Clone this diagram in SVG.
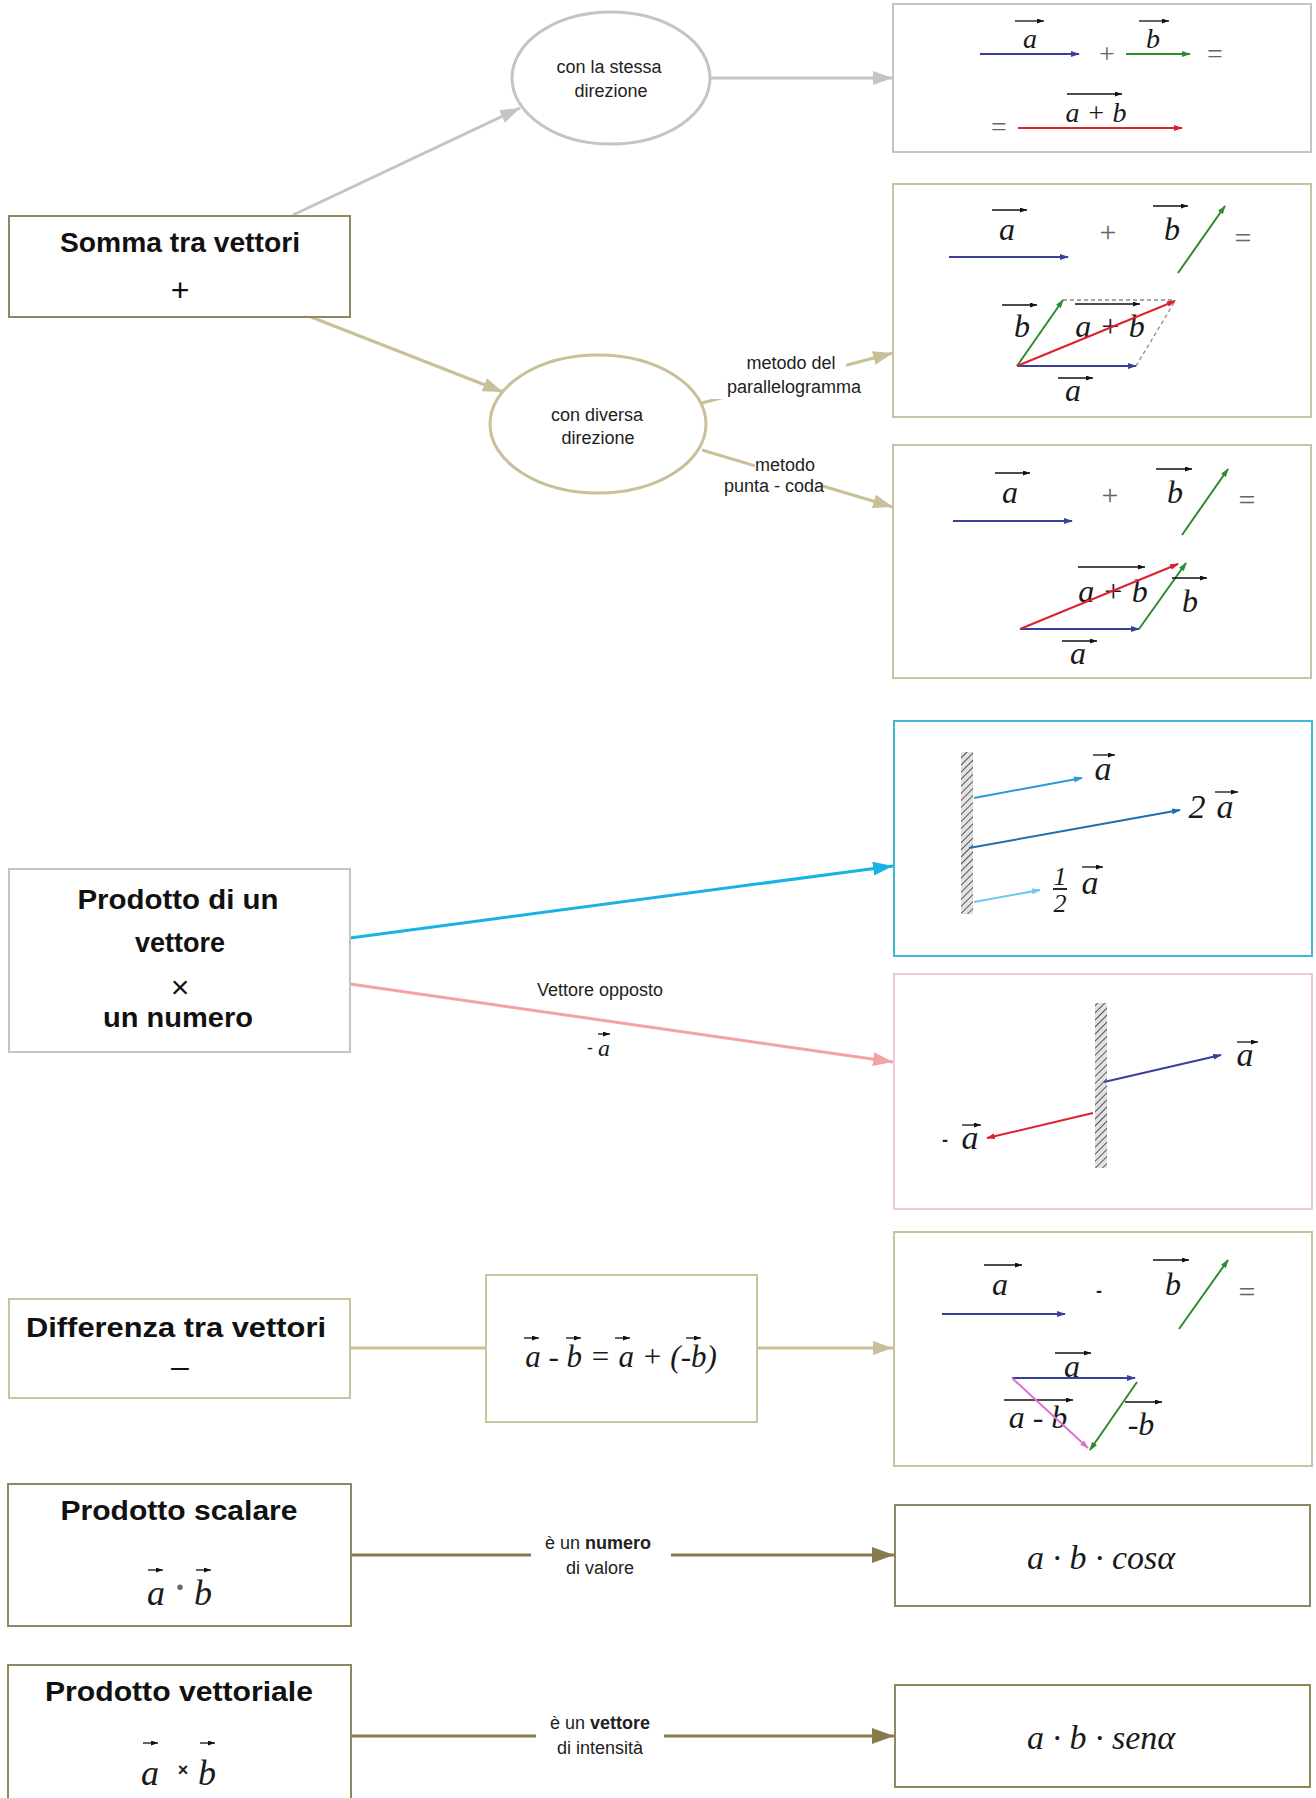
<svg xmlns="http://www.w3.org/2000/svg" width="1316" height="1798" viewBox="0 0 1316 1798">
<defs>
<style>
.bx{fill:#fff;stroke-width:2}
.hd{font-family:"Liberation Sans",Arial,sans-serif;font-weight:bold;font-size:27px;text-anchor:middle;fill:#111}
.sym{font-family:"Liberation Sans",Arial,sans-serif;font-size:32px;text-anchor:middle;fill:#111}
.lb{font-family:"Liberation Sans",Arial,sans-serif;font-size:18px;text-anchor:middle;fill:#222}
.m{font-family:"Liberation Serif","Times New Roman",serif;font-style:italic;text-anchor:middle;fill:#1a1a1a}
.op{font-family:"Liberation Serif","Times New Roman",serif;text-anchor:middle;fill:#666}
.ov{stroke:#111;stroke-width:1.3;marker-end:url(#vBlk)}
.conn{fill:none;stroke-width:3}
.v{stroke-width:2;fill:none}
</style>
<marker id="aGray" markerWidth="20" markerHeight="14" refX="20" refY="7" orient="auto" markerUnits="userSpaceOnUse"><path d="M0,0L20,7L0,14z" fill="#c4c4c4"/></marker>
<marker id="aTan" markerWidth="20" markerHeight="14" refX="20" refY="7" orient="auto" markerUnits="userSpaceOnUse"><path d="M0,0L20,7L0,14z" fill="#c9bf98"/></marker>
<marker id="aCyan" markerWidth="20" markerHeight="14" refX="20" refY="7" orient="auto" markerUnits="userSpaceOnUse"><path d="M0,0L20,7L0,14z" fill="#18b2e4"/></marker>
<marker id="aPink" markerWidth="20" markerHeight="14" refX="20" refY="7" orient="auto" markerUnits="userSpaceOnUse"><path d="M0,0L20,7L0,14z" fill="#f3a3a6"/></marker>
<marker id="aOlive" markerWidth="22" markerHeight="16" refX="22" refY="8" orient="auto" markerUnits="userSpaceOnUse"><path d="M0,0L22,8L0,16z" fill="#877b4c"/></marker>
<marker id="vBlue" markerWidth="9" markerHeight="6" refX="8" refY="3" orient="auto" markerUnits="userSpaceOnUse"><path d="M0,0L9,3L0,6z" fill="#3b3f9c"/></marker>
<marker id="vGreen" markerWidth="9" markerHeight="6" refX="8" refY="3" orient="auto" markerUnits="userSpaceOnUse"><path d="M0,0L9,3L0,6z" fill="#2e8b2e"/></marker>
<marker id="vRed" markerWidth="9" markerHeight="6" refX="8" refY="3" orient="auto" markerUnits="userSpaceOnUse"><path d="M0,0L9,3L0,6z" fill="#e0202c"/></marker>
<marker id="vMag" markerWidth="9" markerHeight="6" refX="8" refY="3" orient="auto" markerUnits="userSpaceOnUse"><path d="M0,0L9,3L0,6z" fill="#e070d0"/></marker>
<marker id="vC1" markerWidth="9" markerHeight="6" refX="8" refY="3" orient="auto" markerUnits="userSpaceOnUse"><path d="M0,0L9,3L0,6z" fill="#2a9ad8"/></marker>
<marker id="vC2" markerWidth="9" markerHeight="6" refX="8" refY="3" orient="auto" markerUnits="userSpaceOnUse"><path d="M0,0L9,3L0,6z" fill="#1f6fb0"/></marker>
<marker id="vC3" markerWidth="9" markerHeight="6" refX="8" refY="3" orient="auto" markerUnits="userSpaceOnUse"><path d="M0,0L9,3L0,6z" fill="#70c8f0"/></marker>
<marker id="vBlk" markerWidth="7" markerHeight="5" refX="7" refY="2.5" orient="auto" markerUnits="userSpaceOnUse"><path d="M0,0L7,2.5L0,5z" fill="#111"/></marker>
<pattern id="hatch" width="5" height="5" patternUnits="userSpaceOnUse" patternTransform="rotate(45)"><rect width="5" height="5" fill="#e2e2e2"/><line x1="0" y1="0" x2="0" y2="5" stroke="#333" stroke-width="1.6"/></pattern>
</defs>
<rect width="1316" height="1798" fill="#fff"/>

<g id="connectors">
<line class="conn" x1="293" y1="215" x2="520" y2="108" stroke="#c4c4c4" marker-end="url(#aGray)"/>
<line class="conn" x1="710" y1="78" x2="893" y2="78" stroke="#c4c4c4" marker-end="url(#aGray)"/>
<line class="conn" x1="311" y1="317" x2="503" y2="392" stroke="#c9bf98" marker-end="url(#aTan)"/>
<line class="conn" x1="702" y1="403" x2="893" y2="353" stroke="#c9bf98" marker-end="url(#aTan)"/>
<line class="conn" x1="702" y1="450" x2="893" y2="507" stroke="#c9bf98" marker-end="url(#aTan)"/>
<line class="conn" x1="350" y1="938" x2="893" y2="866" stroke="#18b2e4" marker-end="url(#aCyan)"/>
<line class="conn" x1="350" y1="984" x2="893" y2="1062" stroke="#f3a3a6" marker-end="url(#aPink)"/>
<line class="conn" x1="350" y1="1348" x2="486" y2="1348" stroke="#c9bf98"/>
<line class="conn" x1="757" y1="1348" x2="893" y2="1348" stroke="#c9bf98" marker-end="url(#aTan)"/>
<line class="conn" x1="351" y1="1555" x2="894" y2="1555" stroke="#877b4c" marker-end="url(#aOlive)"/>
<line class="conn" x1="351" y1="1736" x2="894" y2="1736" stroke="#877b4c" marker-end="url(#aOlive)"/>
<g id="conn-labels">
<rect x="738" y="349" width="108" height="27" fill="#fff"/>
<rect x="712" y="374" width="161" height="25" fill="#fff"/>
<text class="lb" x="791" y="369">metodo del</text>
<text class="lb" x="794" y="393">parallelogramma</text>
<rect x="755" y="454" width="60" height="24" fill="#fff"/>
<rect x="724" y="476" width="98" height="22" fill="#fff"/>
<text class="lb" x="785" y="471">metodo</text>
<text class="lb" x="774" y="492">punta - coda</text>
<text class="lb" x="600" y="996">Vettore opposto</text>
<text class="lb" x="590" y="1054" font-size="16">-</text>
<text class="m" x="604" y="1056" font-size="24">a</text>
<line class="ov" x1="598" y1="1034" x2="610" y2="1034"/>
<rect x="531" y="1528" width="140" height="54" fill="#fff"/>
<text class="lb" x="598" y="1549">è un <tspan font-weight="bold">numero</tspan></text>
<text class="lb" x="600" y="1574">di valore</text>
<rect x="536" y="1708" width="128" height="54" fill="#fff"/>
<text class="lb" x="600" y="1729">è un <tspan font-weight="bold">vettore</tspan></text>
<text class="lb" x="600" y="1754">di intensità</text>
</g>
</g>

<g id="somma">
<rect class="bx" x="9" y="216" width="341" height="101" stroke="#8e875f"/>
<text class="hd" x="180" y="252" textLength="240" lengthAdjust="spacingAndGlyphs">Somma tra vettori</text>
<text class="sym" x="180" y="301">+</text>
</g>

<g id="stessa">
<ellipse cx="611" cy="78" rx="99" ry="66" fill="#fff" stroke="#c4c4c4" stroke-width="3"/>
<text class="lb" x="609" y="73" font-size="19">con la stessa</text>
<text class="lb" x="611" y="97" font-size="19">direzione</text>
</g>

<g id="diversa">
<ellipse cx="598" cy="424" rx="108" ry="69" fill="#fff" stroke="#c9bf98" stroke-width="3"/>
<text class="lb" x="597" y="421" font-size="19">con diversa</text>
<text class="lb" x="598" y="444" font-size="19">direzione</text>
</g>

<g id="box-stessa">
<rect class="bx" x="893" y="4" width="418" height="148" stroke="#c4c4c4"/>
<line class="v" x1="980" y1="54" x2="1079" y2="54" stroke="#3b3f9c" marker-end="url(#vBlue)"/>
<text class="m" x="1030" y="48" font-size="28">a</text>
<line class="ov" x1="1015" y1="21" x2="1044" y2="21"/>
<text class="op" x="1107" y="63" font-size="28">+</text>
<line class="v" x1="1126" y1="54" x2="1190" y2="54" stroke="#2e8b2e" marker-end="url(#vGreen)"/>
<text class="m" x="1153" y="48" font-size="28">b</text>
<line class="ov" x1="1139" y1="21" x2="1169" y2="21"/>
<text class="op" x="1215" y="63" font-size="28">=</text>
<text class="op" x="999" y="136" font-size="28">=</text>
<line class="v" x1="1018" y1="128" x2="1182" y2="128" stroke="#e0202c" marker-end="url(#vRed)"/>
<text class="m" x="1096" y="122" font-size="28">a + b</text>
<line class="ov" x1="1067" y1="94" x2="1122" y2="94"/>
</g>

<g id="box-parallelogramma">
<rect class="bx" x="893" y="184" width="418" height="233" stroke="#c9c3a0"/>
<text class="m" x="1007" y="240" font-size="32">a</text>
<line class="ov" x1="992" y1="210" x2="1027" y2="210"/>
<line class="v" x1="949" y1="257" x2="1068" y2="257" stroke="#3b3f9c" marker-end="url(#vBlue)"/>
<text class="op" x="1108" y="242" font-size="30">+</text>
<text class="m" x="1172" y="240" font-size="32">b</text>
<line class="ov" x1="1153" y1="206" x2="1188" y2="206"/>
<line class="v" x1="1178" y1="273" x2="1225" y2="206" stroke="#2e8b2e" marker-end="url(#vGreen)"/>
<text class="op" x="1243" y="248" font-size="30">=</text>
<line x1="1063" y1="300" x2="1175" y2="300" stroke="#7a9488" stroke-width="1.3" stroke-dasharray="4 3"/>
<line x1="1136" y1="366" x2="1175" y2="301" stroke="#7a9488" stroke-width="1.3" stroke-dasharray="4 3"/>
<line class="v" x1="1017" y1="366" x2="1136" y2="366" stroke="#3b3f9c" marker-end="url(#vBlue)"/>
<line class="v" x1="1017" y1="366" x2="1063" y2="300" stroke="#2e8b2e" marker-end="url(#vGreen)"/>
<text class="m" x="1022" y="337" font-size="32">b</text>
<line class="ov" x1="1002" y1="305" x2="1037" y2="305"/>
<text class="m" x="1110" y="337" font-size="32">a + b</text>
<line class="ov" x1="1075" y1="304" x2="1140" y2="304"/>
<line class="v" x1="1017" y1="366" x2="1175" y2="301" stroke="#e0202c" marker-end="url(#vRed)"/>
<text class="m" x="1073" y="401" font-size="32">a</text>
<line class="ov" x1="1058" y1="378" x2="1093" y2="378"/>
</g>

<g id="box-puntacoda">
<rect class="bx" x="893" y="445" width="418" height="233" stroke="#c9c3a0"/>
<text class="m" x="1010" y="503" font-size="32">a</text>
<line class="ov" x1="995" y1="473" x2="1030" y2="473"/>
<line class="v" x1="953" y1="521" x2="1072" y2="521" stroke="#3b3f9c" marker-end="url(#vBlue)"/>
<text class="op" x="1110" y="505" font-size="30">+</text>
<text class="m" x="1175" y="503" font-size="32">b</text>
<line class="ov" x1="1156" y1="469" x2="1192" y2="469"/>
<line class="v" x1="1182" y1="535" x2="1228" y2="469" stroke="#2e8b2e" marker-end="url(#vGreen)"/>
<text class="op" x="1247" y="510" font-size="30">=</text>
<line class="v" x1="1020" y1="629" x2="1139" y2="629" stroke="#3b3f9c" marker-end="url(#vBlue)"/>
<line class="v" x1="1139" y1="629" x2="1186" y2="563" stroke="#2e8b2e" marker-end="url(#vGreen)"/>
<text class="m" x="1113" y="602" font-size="32">a + b</text>
<line class="ov" x1="1078" y1="567" x2="1145" y2="567"/>
<line class="v" x1="1020" y1="629" x2="1178" y2="564" stroke="#e0202c" marker-end="url(#vRed)"/>
<text class="m" x="1190" y="612" font-size="32">b</text>
<line class="ov" x1="1172" y1="578" x2="1207" y2="578"/>
<text class="m" x="1078" y="664" font-size="32">a</text>
<line class="ov" x1="1062" y1="641" x2="1097" y2="641"/>
</g>

<g id="prodotto-numero">
<rect class="bx" x="9" y="869" width="341" height="183" stroke="#c4c4c4"/>
<text class="hd" x="178" y="909" textLength="201" lengthAdjust="spacingAndGlyphs">Prodotto di un</text>
<text class="hd" x="180" y="952" textLength="90" lengthAdjust="spacingAndGlyphs">vettore</text>
<text class="sym" x="180" y="998" font-size="40" font-weight="normal">×</text>
<text class="hd" x="178" y="1027" textLength="150" lengthAdjust="spacingAndGlyphs">un numero</text>
</g>

<g id="box-multipli">
<rect class="bx" x="894" y="721" width="418" height="235" stroke="#40b8d8"/>
<rect x="961" y="752" width="12" height="162" fill="url(#hatch)"/>
<line class="v" x1="974" y1="798" x2="1082" y2="778" stroke="#2a9ad8" marker-end="url(#vC1)"/>
<text class="m" x="1103" y="780" font-size="34">a</text>
<line class="ov" x1="1093" y1="755" x2="1115" y2="755"/>
<line class="v" x1="969" y1="848" x2="1180" y2="810" stroke="#1f6fb0" marker-end="url(#vC2)"/>
<text class="m" x="1197" y="818" font-size="34" font-style="normal">2</text>
<text class="m" x="1225" y="818" font-size="34">a</text>
<line class="ov" x1="1215" y1="792" x2="1238" y2="792"/>
<line class="v" x1="974" y1="902" x2="1040" y2="890" stroke="#70c8f0" marker-end="url(#vC3)"/>
<text class="m" x="1060" y="885" font-size="26">1</text>
<line x1="1053" y1="889" x2="1067" y2="889" stroke="#111" stroke-width="1.8"/>
<text class="m" x="1060" y="912" font-size="26">2</text>
<text class="m" x="1090" y="894" font-size="34">a</text>
<line class="ov" x1="1082" y1="867" x2="1103" y2="867"/>
</g>

<g id="box-opposto">
<rect class="bx" x="894" y="974" width="418" height="235" stroke="#f0c8d0"/>
<rect x="1095" y="1003" width="12" height="165" fill="url(#hatch)"/>
<line class="v" x1="1104" y1="1082" x2="1221" y2="1055" stroke="#3b3f9c" marker-end="url(#vBlue)"/>
<text class="m" x="1245" y="1066" font-size="34">a</text>
<line class="ov" x1="1237" y1="1042" x2="1258" y2="1042"/>
<line class="v" x1="1093" y1="1113" x2="987" y2="1138" stroke="#e0202c" marker-end="url(#vRed)"/>
<text class="lb" x="945" y="1146" font-size="30" font-weight="bold" fill="#111">-</text>
<text class="m" x="970" y="1149" font-size="34">a</text>
<line class="ov" x1="962" y1="1125" x2="981" y2="1125"/>
</g>

<g id="differenza">
<rect class="bx" x="9" y="1299" width="341" height="99" stroke="#c9c3a0"/>
<text class="hd" x="176" y="1337" textLength="300" lengthAdjust="spacingAndGlyphs">Differenza tra vettori</text>
<text class="sym" x="180" y="1377" font-weight="normal">–</text>
</g>

<g id="formula">
<rect class="bx" x="486" y="1275" width="271" height="147" stroke="#c9c3a0"/>
<text class="m" x="621" y="1367" font-size="31">a - b = a + (-b)</text>
<line class="ov" x1="524" y1="1338" x2="539" y2="1338"/>
<line class="ov" x1="566" y1="1338" x2="581" y2="1338"/>
<line class="ov" x1="615" y1="1338" x2="630" y2="1338"/>
<line class="ov" x1="686" y1="1338" x2="701" y2="1338"/>
</g>

<g id="box-differenza">
<rect class="bx" x="894" y="1232" width="418" height="234" stroke="#c9c3a0"/>
<text class="m" x="1000" y="1295" font-size="32">a</text>
<line class="ov" x1="984" y1="1265" x2="1022" y2="1265"/>
<line class="v" x1="942" y1="1314" x2="1065" y2="1314" stroke="#3b3f9c" marker-end="url(#vBlue)"/>
<text class="lb" x="1099" y="1297" font-size="30" font-weight="bold" fill="#333">-</text>
<text class="m" x="1173" y="1295" font-size="32">b</text>
<line class="ov" x1="1153" y1="1260" x2="1189" y2="1260"/>
<line class="v" x1="1179" y1="1329" x2="1228" y2="1260" stroke="#2e8b2e" marker-end="url(#vGreen)"/>
<text class="op" x="1247" y="1302" font-size="30">=</text>
<text class="m" x="1072" y="1377" font-size="32">a</text>
<line class="ov" x1="1055" y1="1353" x2="1091" y2="1353"/>
<line class="v" x1="1012" y1="1378" x2="1135" y2="1378" stroke="#3b3f9c" marker-end="url(#vBlue)"/>
<line class="v" x1="1137" y1="1382" x2="1090" y2="1450" stroke="#2e8b2e" marker-end="url(#vGreen)"/>
<text class="m" x="1038" y="1428" font-size="32">a - b</text>
<line class="ov" x1="1004" y1="1400" x2="1073" y2="1400"/>
<line class="v" x1="1012" y1="1378" x2="1088" y2="1448" stroke="#e070d0" marker-end="url(#vMag)"/>
<text class="m" x="1141" y="1435" font-size="32">-b</text>
<line class="ov" x1="1125" y1="1402" x2="1162" y2="1402"/>
</g>

<g id="scalare">
<rect class="bx" x="8" y="1484" width="343" height="142" stroke="#8e875f"/>
<text class="hd" x="179" y="1520" textLength="237" lengthAdjust="spacingAndGlyphs">Prodotto scalare</text>
<text class="m" x="156" y="1605" font-size="36">a</text>
<text class="op" x="180" y="1598" font-size="34" font-weight="bold" fill="#111">·</text>
<text class="m" x="203" y="1605" font-size="36">b</text>
<line class="ov" x1="148" y1="1570" x2="163" y2="1570"/>
<line class="ov" x1="196" y1="1570" x2="211" y2="1570"/>
</g>

<g id="box-cos">
<rect class="bx" x="895" y="1505" width="415" height="101" stroke="#8e875f"/>
<text class="m" x="1101" y="1569" font-size="34">a · b · cosα</text>
</g>

<g id="vettoriale">
<rect class="bx" x="8" y="1665" width="343" height="140" stroke="#8e875f"/>
<text class="hd" x="179" y="1701" textLength="268" lengthAdjust="spacingAndGlyphs">Prodotto vettoriale</text>
<text class="m" x="150" y="1785" font-size="36">a</text>
<text class="lb" x="183" y="1776" font-size="20" font-weight="bold" fill="#111">×</text>
<text class="m" x="207" y="1785" font-size="36">b</text>
<line class="ov" x1="143" y1="1743" x2="158" y2="1743"/>
<line class="ov" x1="200" y1="1743" x2="215" y2="1743"/>
</g>

<g id="box-sen">
<rect class="bx" x="895" y="1685" width="415" height="102" stroke="#8e875f"/>
<text class="m" x="1101" y="1749" font-size="34">a · b · senα</text>
</g>
</svg>
